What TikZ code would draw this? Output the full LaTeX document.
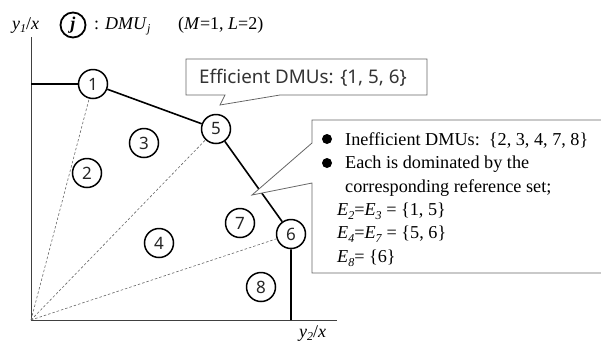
\documentclass[tikz,border=0pt]{standalone}
\usepackage{fontspec}
\setmainfont{Liberation Serif}
\newfontfamily\sansf{Noto Sans}
\newcommand{\sbx}[1]{\raisebox{-0.22em}{\fontsize{12}{12}\selectfont\textit{#1}}}
\begin{document}
\begin{tikzpicture}[x=1pt,y=-1pt,
  dmu/.style={circle,draw=black,line width=1.5pt,minimum size=29pt,inner sep=0pt,font=\sansf\fontsize{17}{17}\selectfont,text=black!85},
  axis/.style={draw=black!75,line width=0.8pt},
  front/.style={draw=black,line width=1.6pt},
  ray/.style={draw=black!60,dash pattern=on 2.5pt off 2pt,line width=0.6pt},
  callout/.style={draw=black!60,line width=0.8pt,fill=white},
  txt/.style={anchor=base west,inner sep=0pt,font=\fontsize{18.2}{18.2}\selectfont}
]
\useasboundingbox (0,0) rectangle (601,346);
% axes
\coordinate (O) at (31,320);
\coordinate (ytop) at (31,37);
\coordinate (xend) at (337,320);
\draw[axis] (ytop) -- (O) -- (xend);
% DMUs
\node[dmu] (n1) at (93,84) {1};
\node[dmu] (n5) at (216,129) {5};
\node[dmu] (n6) at (291,234) {6};
\node[dmu] (n3) at (144,143) {3};
\node[dmu] (n2) at (87,173) {2};
\node[dmu] (n7) at (240,223) {7};
\node[dmu] (n4) at (159,243) {4};
\node[dmu] (n8) at (261,287) {8};
% rays
\draw[ray] (O) -- (n1);
\draw[ray] (O) -- (n5);
\draw[ray] (O) -- (n6);
% frontier
\coordinate (yl) at (31,84);
\coordinate (xl) at (291,320);
\draw[front] (yl) -- (n1) -- (n5) -- (n6) -- (xl);
% callout 1
\draw[callout] (186,59) -- (427,59) -- (427,95) -- (280,95) -- (220,105) -- (225,95) -- (186,95) -- cycle;
\node[anchor=base west,inner sep=0pt,font=\sansf\fontsize{18.8}{18.8}\selectfont,text=black!80] (eff) at (199,83) {Efficient DMUs: \{1, 5, 6\}};
% callout 2
\draw[callout] (312,120) -- (612,120) -- (612,273) -- (312,273) -- (312,183) -- (252,195) -- (312,143) -- cycle;
\fill (327,139) circle (5pt);
\fill (327,163) circle (5pt);
\node[txt] (l1) at (345,145) {Inefficient DMUs:\ \ \{2, 3, 4, 7, 8\}};
\node[txt] (l2) at (345,168) {Each is dominated by the};
\node[txt] (l3) at (345,192) {corresponding reference set;};
\node[txt] (l4) at (337,215) {\textit{E}\sbx{2}=\textit{E}\sbx{3} = \{1, 5\}};
\node[txt] (l5) at (337,238) {\textit{E}\sbx{4}=\textit{E}\sbx{7} = \{5, 6\}};
\node[txt] (l6) at (337,262) {\textit{E}\sbx{8}= \{6\}};
% legend
\node[txt,font=\fontsize{18}{18}\selectfont] (ylab) at (12,29) {\textit{y}\sbx{1}/\textit{x}};
\node[circle,draw=black,line width=1.8pt,minimum size=25pt,inner sep=0pt,font=\fontsize{18}{18}\selectfont] (jj) at (73,25) {\textbf{\textit{j}}};
\node[txt,font=\fontsize{18}{18}\selectfont] (dmuj) at (94,29) {: \textit{DMU}\sbx{j}};
\node[txt,font=\fontsize{18}{18}\selectfont] (ml) at (178,29) {(\textit{M}=1, \textit{L}=2)};
\node[txt,font=\fontsize{18}{18}\selectfont] (xlab) at (299,337) {\textit{y}\sbx{2}/\textit{x}};
\end{tikzpicture}
\end{document}
